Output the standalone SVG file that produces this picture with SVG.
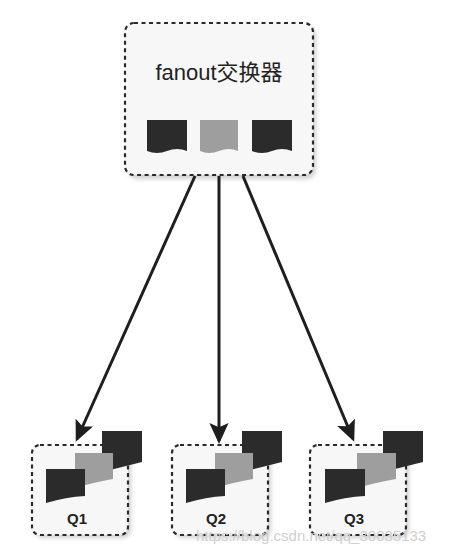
<svg xmlns="http://www.w3.org/2000/svg" width="450" height="556" viewBox="0 0 450 556">
<defs>
<style>
.box{fill:#f7f7f7;stroke:#2a2a2a;stroke-width:2.2;stroke-dasharray:4 3.5}
.shadow{fill:#9a9a9a;opacity:0.45}
.dark{fill:#2b2b2b}
.grey{fill:#9e9e9e}
.conn{stroke:#1e1e1e;stroke-width:3;fill:none;marker-end:url(#ah)}
.lbl{font-family:"Liberation Sans",Arial,sans-serif;font-weight:bold;font-size:15px;fill:#222;text-anchor:middle}
.title{font-family:"Liberation Sans","Noto Sans CJK SC",sans-serif;font-size:22px;fill:#222;text-anchor:middle}
.wm{font-family:"Liberation Sans",Arial,sans-serif;font-size:15px;fill:#cfcfcf}
</style>
<marker id="ah" markerWidth="7" markerHeight="6.4" refX="6" refY="3.2" orient="auto" markerUnits="strokeWidth">
<path d="M0,0 L7,3.2 L0,6.4 L1.4,3.2 Z" fill="#1e1e1e"/>
</marker>
<filter id="blur" x="-20%" y="-20%" width="140%" height="140%"><feGaussianBlur stdDeviation="2"/></filter>
</defs>
<rect width="450" height="556" fill="#ffffff"/>

<g id="exchange">
<rect class="shadow" x="128" y="26" width="188" height="153" rx="9" filter="url(#blur)"/>
<rect class="box" x="125" y="23" width="188" height="152" rx="9"/>
<text class="title" x="219" y="80">fanout交换器</text>
<path class="dark" d="M147,120 H187 V151 Q177,147 167,151 Q157,155 147,151 Z"/>
<path class="grey" d="M200,120 H238 V151 Q229,147 219,151 Q209,155 200,151 Z"/>
<path class="dark" d="M252,120 H292 V151 Q282,147 272,151 Q262,155 252,151 Z"/>
</g>

<g id="connectors">
<line class="conn" x1="195" y1="176" x2="77" y2="439"/>
<line class="conn" x1="219" y1="176" x2="219" y2="441"/>
<line class="conn" x1="243" y1="176" x2="353" y2="439"/>
</g>

<g id="q1">
<rect class="shadow" x="35" y="448" width="96" height="90" rx="8" filter="url(#blur)"/>
<rect class="box" x="32" y="445" width="96" height="90" rx="8"/>
<path class="dark" d="M102,431 H142 V462 L102,472 Z"/>
<path class="grey" d="M75,453 H113 V479 Q95,482 75,488 Z"/>
<path class="dark" d="M46,469 H85 V496 Q66,497 46,503 Z"/>
<text class="lbl" x="77" y="524">Q1</text>
</g>

<g id="q2">
<rect class="shadow" x="175" y="448" width="96" height="90" rx="8" filter="url(#blur)"/>
<rect class="box" x="172" y="445" width="96" height="90" rx="8"/>
<path class="dark" d="M242,431 H282 V462 L242,472 Z"/>
<path class="grey" d="M215,453 H253 V479 Q235,482 215,488 Z"/>
<path class="dark" d="M186,469 H225 V496 Q206,497 186,503 Z"/>
<text class="lbl" x="216" y="524">Q2</text>
</g>

<g id="q3">
<rect class="shadow" x="313" y="448" width="96" height="90" rx="8" filter="url(#blur)"/>
<rect class="box" x="310" y="445" width="96" height="90" rx="8"/>
<path class="dark" d="M383,431 H423 V462 L383,472 Z"/>
<path class="grey" d="M357,453 H396 V479 Q378,482 357,488 Z"/>
<path class="dark" d="M325,469 H365 V496 Q345,497 325,503 Z"/>
<text class="lbl" x="354" y="524">Q3</text>
</g>

<text class="wm" x="196" y="541">https://blog.csdn.net/qq_30035133</text>
</svg>
